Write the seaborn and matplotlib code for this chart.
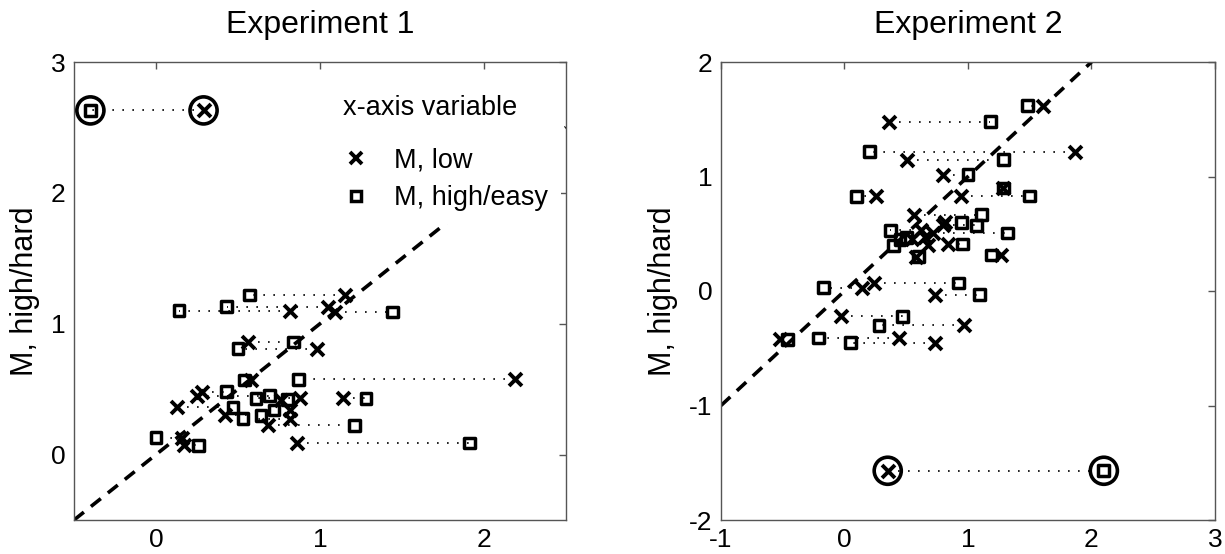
import matplotlib
matplotlib.use("Agg")
import matplotlib.pyplot as plt
import seaborn as sns
from matplotlib.lines import Line2D

# ---------------- data ----------------
# Experiment 1: per subject, x for "M, low" (x marker), x for "M, high/easy" (square), y = M high/hard
e1_low = [1.15, 0.82, 1.05, 1.09, 0.56, 0.98, 2.19, 0.58, 0.28, 0.25, 0.88, 1.14, 0.76,
          0.13, 0.42, 0.82, 0.82, 0.685, 0.86, 0.16, 0.17]
e1_high = [0.57, 0.14, 0.43, 1.44, 0.84, 0.50, 0.87, 0.54, 0.43, 0.69, 0.61, 1.28, 0.80,
           0.47, 0.64, 0.72, 0.53, 1.21, 1.91, 0.00, 0.26]
e1_y = [1.22, 1.10, 1.13, 1.09, 0.86, 0.81, 0.575, 0.57, 0.48, 0.45, 0.43, 0.43, 0.42,
        0.36, 0.30, 0.34, 0.275, 0.224, 0.089, 0.13, 0.07]
e1_out_low = [0.29]
e1_out_high = [-0.40]
e1_out_y = [2.63]

# Experiment 2
e2_low = [0.36, 1.87, 0.505, 0.80, 0.257, 0.945, 1.287, 1.606, 0.565, 0.14, 0.24, 0.73,
          -0.03, 0.97, -0.52, 0.445, 0.73, 1.27, 0.72, 0.80, 0.81, 0.837, 0.62, 0.55,
          0.68, 0.58, 0.65]
e2_high = [1.18, 0.20, 1.287, 1.00, 0.095, 1.50, 1.287, 1.48, 1.107, -0.17, 0.92, 1.095,
           0.47, 0.28, -0.46, -0.21, 0.046, 1.19, 1.323, 1.07, 0.95, 0.953, 0.37, 0.45,
           0.40, 0.60, 0.50]
e2_y = [1.48, 1.217, 1.147, 1.015, 0.827, 0.83, 0.90, 1.62, 0.668, 0.028, 0.07, -0.033,
        -0.22, -0.30, -0.42, -0.41, -0.45, 0.314, 0.507, 0.575, 0.60, 0.41, 0.53, 0.45,
        0.40, 0.30, 0.47]
e2_out_low = [0.35]
e2_out_high = [2.10]
e2_out_y = [-1.57]

titles = ["Experiment 1", "Experiment 2"]
ylabel = "M, high/hard"
legend_title = "x-axis variable"
legend_labels = ["M, low", "M, high/easy"]
e1_xticks = [0, 1, 2]
e1_yticks = [0, 1, 2, 3]
e2_xticks = [-1, 0, 1, 2, 3]
e2_yticks = [-2, -1, 0, 1, 2]

# ---------------- style ----------------
sns.set_theme(style="white")
plt.rcParams["font.family"] = ["Liberation Sans", "DejaVu Sans"]
plt.rcParams["text.color"] = "black"
plt.rcParams["axes.labelcolor"] = "black"

fig = plt.figure(figsize=(12.25, 5.54), dpi=100)
ax1 = fig.add_axes([74 / 1225, 1 - 520 / 554, 492 / 1225, 458 / 554])
ax2 = fig.add_axes([721 / 1225, 1 - 520 / 554, 494 / 1225, 458 / 554])

X_MS, X_LW = 9.3, 2.8
SQ_MS, SQ_LW = 7.8, 2.5
C_MS, C_LW = 19.5, 2.6


def draw(ax, low, high, y, olow, ohigh, oy, xlim, ylim, xticks, yticks, title):
    # dotted connectors
    for xl, xh, yy in zip(low + olow, high + ohigh, y + oy):
        ax.plot([xl, xh], [yy, yy], color="black", lw=1.2, ls=(0, (1, 5)), zorder=1)
    # identity line
    ax.axline((0, 0), slope=1, color="black", lw=2.6, ls=(0, (3.5, 2.5)), zorder=2)
    # markers
    sns.scatterplot(x=low + olow, y=y + oy, marker="x", s=X_MS ** 2, color="black",
                    linewidth=X_LW, ax=ax, zorder=4, legend=False)
    sns.scatterplot(x=high + ohigh, y=y + oy, marker="s", s=SQ_MS ** 2, color="black",
                    linewidth=SQ_LW, ax=ax, zorder=4, legend=False)
    coll = ax.collections[-1]
    coll.set_facecolor("none")
    coll.set_edgecolor("black")
    # outlier circles
    sns.scatterplot(x=olow + ohigh, y=oy + oy, marker="o", s=C_MS ** 2, color="black",
                    linewidth=C_LW, ax=ax, zorder=5, legend=False)
    coll = ax.collections[-1]
    coll.set_facecolor("none")
    coll.set_edgecolor("black")

    ax.set_xlim(*xlim)
    ax.set_ylim(*ylim)
    ax.set_xticks(xticks)
    ax.set_yticks(yticks)
    ax.set_xticklabels([str(t) for t in xticks])
    ax.set_yticklabels([str(t) for t in yticks])
    ax.tick_params(direction="in", top=True, right=True, length=5, width=1,
                   color="#555555", labelsize=19, pad=6, labelcolor="black")
    for s in ax.spines.values():
        s.set_color("#555555")
        s.set_linewidth(1.0)
        s.set_visible(True)
    ax.set_title(title, fontsize=23, pad=21, color="black")
    ax.set_ylabel(ylabel, fontsize=22, labelpad=8, color="black")
    ax.set_xlabel("")
    ax.grid(False)


draw(ax1, e1_low, e1_high, e1_y, e1_out_low, e1_out_high, e1_out_y,
     (-0.5, 2.5), (-0.5, 3), e1_xticks, e1_yticks, titles[0])
draw(ax2, e2_low, e2_high, e2_y, e2_out_low, e2_out_high, e2_out_y,
     (-1, 3), (-2, 2), e2_xticks, e2_yticks, titles[1])

handles = [
    Line2D([], [], ls="none", marker="x", color="black", markersize=X_MS, mew=X_LW),
    Line2D([], [], ls="none", marker="s", color="black", markersize=SQ_MS - 0.8,
           mew=SQ_LW, mfc="none"),
]
leg = ax1.legend(handles, legend_labels, title=legend_title, loc="upper right",
                 bbox_to_anchor=(0.989, 0.955), fontsize=19.5, title_fontsize=19.5,
                 frameon=True, framealpha=1, edgecolor="none", facecolor="white",
                 borderpad=0.45, handlelength=1.0, handletextpad=0.9, labelspacing=0.45,
                 alignment="left", borderaxespad=0)
leg.get_frame().set_linewidth(0)
leg.set_zorder(10)
leg._legend_box.sep = 19
for t in leg.get_texts():
    t.set_color("black")
leg.get_title().set_color("black")

fig.savefig("out.png", dpi=100)
